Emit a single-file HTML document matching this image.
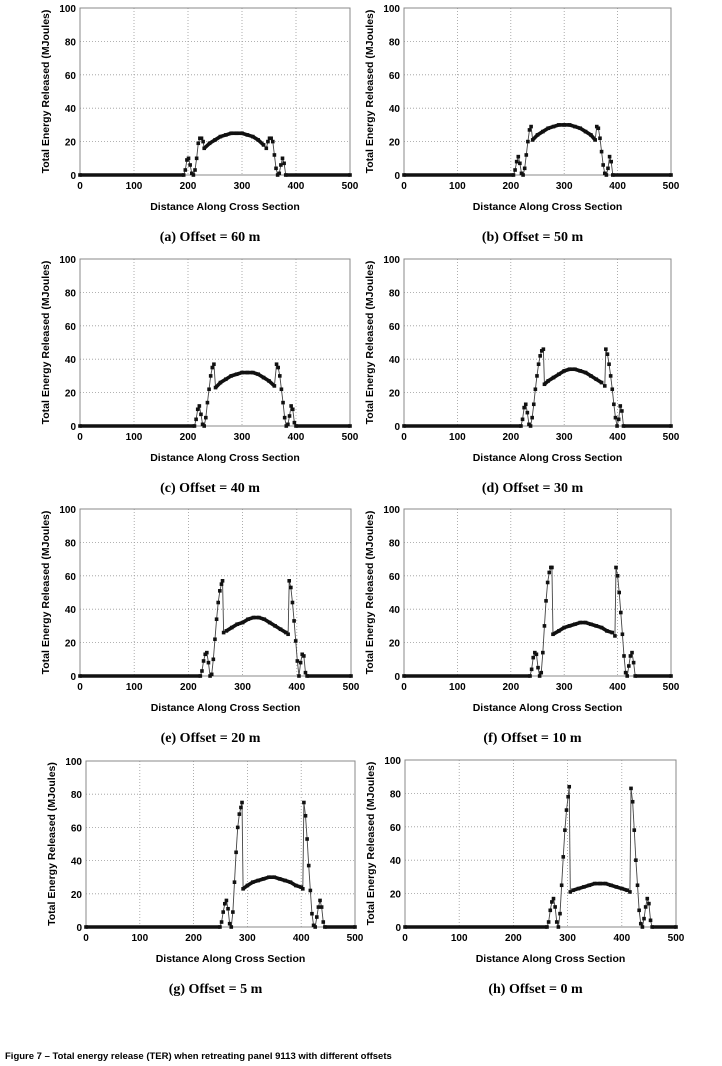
<!DOCTYPE html>
<html><head><meta charset="utf-8"><style>
html,body{margin:0;padding:0;background:#fff;}
svg{display:block;}
</style></head><body>
<svg id="fig" width="722" height="1066" xmlns="http://www.w3.org/2000/svg">
<text x="5" y="1059" font-family="Liberation Sans, sans-serif" font-size="9.5" font-weight="bold" fill="#000">Figure 7 – Total energy release (TER) when retreating panel 9113 with different offsets</text>
</svg>
<script>
const xTicks=[0,100,200,300,400,500];
const yTicks=[0,20,40,60,80,100];
const captions=["(a) Offset = 60 m","(b) Offset = 50 m","(c) Offset = 40 m","(d) Offset = 30 m","(e) Offset = 20 m","(f) Offset = 10 m","(g) Offset = 5 m","(h) Offset = 0 m"];
const xa=[0,192,195,198,201,204,207,210,213,216,219,222,225,228,230,240,250,260,270,280,290,300,310,320,330,340,345,348,351,354,357,360,363,366,369,372,375,378,381,500];
const ya=[0,0,3,9,10,6,1,0,3,10,19,22,22,20,16,19,21,23,24,25,25,25,24,23,21,18,16,20,22,22,20,12,4,0,1,6,10,7,0,0];
const xb=[0,205,208,211,214,217,220,223,226,229,232,235,238,241,250,260,270,280,290,300,310,320,330,340,350,358,361,364,367,370,373,376,379,382,385,388,391,500];
const yb=[0,0,3,8,11,7,1,0,4,12,20,27,29,21,24,26,28,29,30,30,30,29,28,26,24,21,29,28,22,14,6,1,0,4,11,8,0,0];
const xc=[0,212,215,218,221,224,227,230,233,236,239,242,245,248,251,260,270,280,290,300,310,320,330,340,350,360,364,367,370,373,376,379,382,385,388,391,394,397,400,500];
const yc=[0,0,4,10,12,7,1,0,5,14,22,30,35,37,23,26,28,30,31,32,32,32,31,29,27,24,37,35,30,22,14,5,0,1,6,12,10,2,0,0];
const xd=[0,219,222,225,228,231,234,237,240,243,246,249,252,255,258,261,263,270,280,290,300,310,320,330,340,350,360,370,376,378,381,384,387,390,393,396,399,402,405,408,411,500];
const yd=[0,0,4,11,13,8,1,0,5,13,22,30,37,42,45,46,25,27,29,31,33,34,34,33,32,30,28,26,24,46,43,37,30,22,13,5,0,4,12,9,0,0];
const xe=[0,222,225,228,231,234,237,240,243,246,249,252,255,258,261,263,265,270,280,290,300,310,320,330,340,350,360,370,380,384,386,389,392,395,398,401,404,407,410,413,416,419,500];
const ye=[0,0,3,9,13,14,8,0,1,10,22,34,44,51,55,57,26,27,29,31,32,34,35,35,34,32,30,28,26,25,57,53,44,33,21,9,0,8,13,12,2,0,0];
const xf=[0,236,239,242,245,248,251,254,257,260,263,266,269,272,275,277,279,290,300,310,320,330,340,350,360,370,380,390,395,397,400,403,406,409,412,415,418,421,424,427,430,433,500];
const yf=[0,0,4,11,14,13,5,0,2,14,30,45,56,62,65,65,25,27,29,30,31,32,32,31,30,29,27,26,24,65,60,50,38,25,12,2,0,6,12,14,8,0,0];
const xg=[0,249,252,255,258,261,264,267,270,273,276,279,282,285,288,290,292,300,310,320,330,340,350,360,370,380,390,400,403,405,408,411,414,417,420,423,426,429,432,435,438,441,444,500];
const yg=[0,0,3,9,14,16,11,2,0,9,27,45,60,68,72,75,23,25,27,28,29,30,30,29,28,27,25,24,23,75,67,53,37,22,8,1,0,6,12,16,12,3,0,0];
const xh=[0,262,265,268,271,274,277,280,283,286,289,292,295,298,301,303,305,310,320,330,340,350,360,370,380,390,400,410,415,417,420,423,426,429,432,435,438,441,444,447,450,453,456,500];
const yh=[0,0,3,10,15,17,12,3,0,8,25,42,58,70,78,84,21,22,23,24,25,26,26,26,25,24,23,22,21,83,75,58,40,25,10,2,0,5,12,17,14,4,0,0];
const seriesX=[xa,xb,xc,xd,xe,xf,xg,xh];
const seriesY=[ya,yb,yc,yd,ye,yf,yg,yh];
const frames=[[80,350,8,175],[404,671,8,175],[80,350,259,426],[404,671,259,426],[80,351,509,676],[404,671,509,676],[86,355,761,927],[405,676,760,927]];
const NS="http://www.w3.org/2000/svg";
const svg=document.getElementById('fig');
function mk(tag,attrs,parent){const e=document.createElementNS(NS,tag);for(const k in attrs)e.setAttribute(k,attrs[k]);(parent||svg).appendChild(e);return e;}
const SANS="Liberation Sans, Arial, sans-serif";
for(let p=0;p<8;p++){
  const [L,R,T,B]=frames[p];
  const g=mk('g',{});
  
  
  const sx=v=>L+(v-0)/(500-0)*(R-L);
  const sy=v=>B-(v-0)/(100-0)*(B-T);
  for(const t of xTicks){
    if(t>0&&t<500){const gl=mk('line',{x1:sx(t),x2:sx(t),y1:T,y2:B,stroke:'#999','stroke-width':0.8,'stroke-dasharray':'1,2'},g);
    
    }
    const tl=mk('text',{x:sx(t),y:B+14,'text-anchor':'middle','font-family':SANS,'font-size':10,'font-weight':'bold'},g);
    tl.textContent=t;
    
    
  }
  for(const t of yTicks){
    if(t>0&&t<100){const gl=mk('line',{x1:L,x2:R,y1:sy(t),y2:sy(t),stroke:'#999','stroke-width':0.8,'stroke-dasharray':'1,2'},g);
    
    }
    const tl=mk('text',{x:L-4,y:sy(t)+4,'text-anchor':'end','font-family':SANS,'font-size':10,'font-weight':'bold'},g);
    tl.textContent=t;
    
    
  }
  const fr=mk('rect',{x:L,y:T,width:R-L,height:B-T,fill:'none',stroke:'#888','stroke-width':1},g);
  
  
  const X=seriesX[p],Y=seriesY[p];
  for(let i=1;i<X.length;i++){
    const thick=(X[i]-X[i-1])>=7;
    const seg=mk('line',{x1:sx(X[i-1]),y1:sy(Y[i-1]),x2:sx(X[i]),y2:sy(Y[i]),stroke:thick?'#111':'#444','stroke-width':thick?3.6:0.9},g);
    
    
  }
  for(let i=0;i<X.length;i++){
    const m=mk('rect',{x:sx(X[i])-1.8,y:sy(Y[i])-1.8,width:3.6,height:3.6,fill:'#111'},g);
    
    
  }
  const yt=mk('text',{x:0,y:0,transform:`translate(${L-31},${(T+B)/2}) rotate(-90)`,'text-anchor':'middle','font-family':SANS,'font-size':10.5,'font-weight':'bold'},g);
  yt.textContent='Total Energy Released (MJoules)';
  
  
  const xt=mk('text',{x:(L+R)/2+10,y:B+35,'text-anchor':'middle','font-family':SANS,'font-size':10.5,'font-weight':'bold'},g);
  xt.textContent='Distance Along Cross Section';
  
  
  const cp=mk('text',{x:(L+R)/2-5,y:B+66,'text-anchor':'middle','font-family':'Liberation Serif, serif','font-size':14,'font-weight':'bold'},g);
  cp.textContent=captions[p];
  
  
}
</script>
</body></html>
